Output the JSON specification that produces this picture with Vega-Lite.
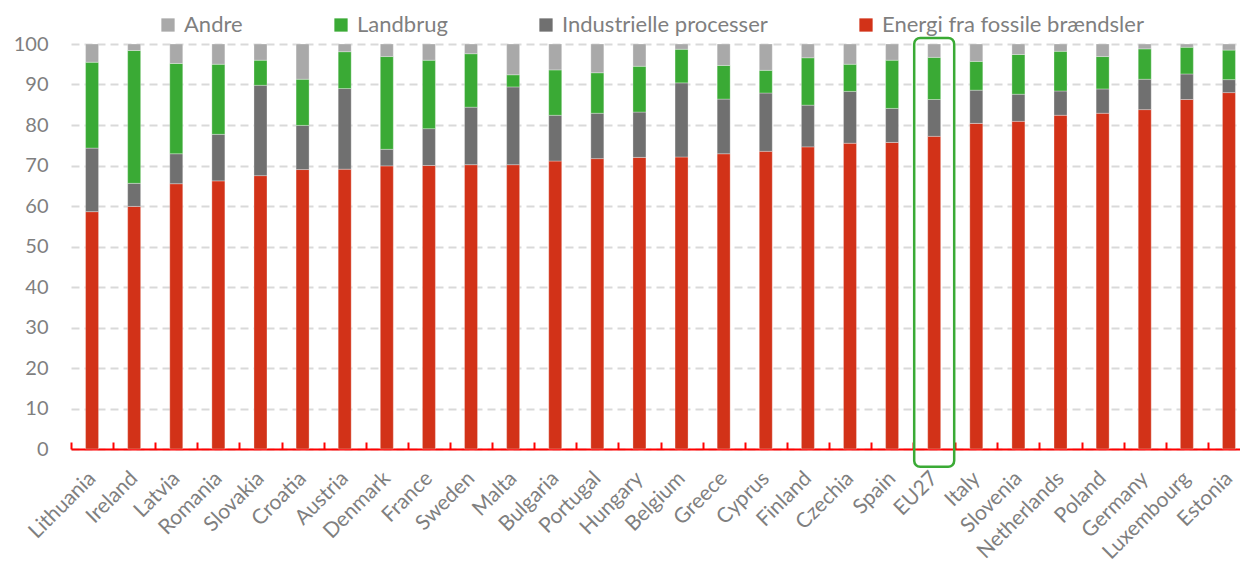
{
  "$schema": "https://vega.github.io/schema/vega-lite/v6.json",
  "autosize": "none",
  "padding": {"left": 71, "top": 44, "right": 0, "bottom": 120},
  "width": 1179,
  "height": 405,
  "background": "white",
  "config": {
    "font": "Lato",
    "view": {"stroke": null}
  },
  "data": {
    "values": [
      {"land": "Lithuania", "Energi fra fossile brændsler": 58.6, "Industrielle processer": 15.7, "Landbrug": 21.2, "Andre": 4.5},
      {"land": "Ireland", "Energi fra fossile brændsler": 59.9, "Industrielle processer": 5.7, "Landbrug": 32.8, "Andre": 1.6},
      {"land": "Latvia", "Energi fra fossile brændsler": 65.5, "Industrielle processer": 7.4, "Landbrug": 22.3, "Andre": 4.8},
      {"land": "Romania", "Energi fra fossile brændsler": 66.2, "Industrielle processer": 11.5, "Landbrug": 17.3, "Andre": 5.0},
      {"land": "Slovakia", "Energi fra fossile brændsler": 67.5, "Industrielle processer": 22.3, "Landbrug": 6.2, "Andre": 4.0},
      {"land": "Croatia", "Energi fra fossile brændsler": 69.0, "Industrielle processer": 10.9, "Landbrug": 11.4, "Andre": 8.7},
      {"land": "Austria", "Energi fra fossile brændsler": 69.1, "Industrielle processer": 19.9, "Landbrug": 9.1, "Andre": 1.9},
      {"land": "Denmark", "Energi fra fossile brændsler": 69.9, "Industrielle processer": 4.1, "Landbrug": 22.9, "Andre": 3.1},
      {"land": "France", "Energi fra fossile brændsler": 70.0, "Industrielle processer": 9.1, "Landbrug": 16.9, "Andre": 4.0},
      {"land": "Sweden", "Energi fra fossile brændsler": 70.2, "Industrielle processer": 14.2, "Landbrug": 13.2, "Andre": 2.4},
      {"land": "Malta", "Energi fra fossile brændsler": 70.2, "Industrielle processer": 19.2, "Landbrug": 3.0, "Andre": 7.6},
      {"land": "Bulgaria", "Energi fra fossile brændsler": 71.1, "Industrielle processer": 11.3, "Landbrug": 11.2, "Andre": 6.4},
      {"land": "Portugal", "Energi fra fossile brændsler": 71.7, "Industrielle processer": 11.2, "Landbrug": 10.0, "Andre": 7.1},
      {"land": "Hungary", "Energi fra fossile brændsler": 72.0, "Industrielle processer": 11.2, "Landbrug": 11.3, "Andre": 5.5},
      {"land": "Belgium", "Energi fra fossile brændsler": 72.1, "Industrielle processer": 18.3, "Landbrug": 8.3, "Andre": 1.3},
      {"land": "Greece", "Energi fra fossile brændsler": 72.9, "Industrielle processer": 13.5, "Landbrug": 8.3, "Andre": 5.3},
      {"land": "Cyprus", "Energi fra fossile brændsler": 73.5, "Industrielle processer": 14.4, "Landbrug": 5.6, "Andre": 6.5},
      {"land": "Finland", "Energi fra fossile brændsler": 74.6, "Industrielle processer": 10.3, "Landbrug": 11.7, "Andre": 3.4},
      {"land": "Czechia", "Energi fra fossile brændsler": 75.5, "Industrielle processer": 12.8, "Landbrug": 6.7, "Andre": 5.0},
      {"land": "Spain", "Energi fra fossile brændsler": 75.7, "Industrielle processer": 8.4, "Landbrug": 11.9, "Andre": 4.0},
      {"land": "EU27", "Energi fra fossile brændsler": 77.2, "Industrielle processer": 9.1, "Landbrug": 10.4, "Andre": 3.3},
      {"land": "Italy", "Energi fra fossile brændsler": 80.4, "Industrielle processer": 8.2, "Landbrug": 7.1, "Andre": 4.3},
      {"land": "Slovenia", "Energi fra fossile brændsler": 80.9, "Industrielle processer": 6.7, "Landbrug": 9.8, "Andre": 2.6},
      {"land": "Netherlands", "Energi fra fossile brændsler": 82.4, "Industrielle processer": 6.0, "Landbrug": 9.8, "Andre": 1.8},
      {"land": "Poland", "Energi fra fossile brændsler": 82.9, "Industrielle processer": 6.0, "Landbrug": 8.0, "Andre": 3.1},
      {"land": "Germany", "Energi fra fossile brændsler": 83.8, "Industrielle processer": 7.5, "Landbrug": 7.5, "Andre": 1.2},
      {"land": "Luxembourg", "Energi fra fossile brændsler": 86.3, "Industrielle processer": 6.3, "Landbrug": 6.6, "Andre": 0.8},
      {"land": "Estonia", "Energi fra fossile brændsler": 88.0, "Industrielle processer": 3.2, "Landbrug": 7.3, "Andre": 1.5}
    ]
  },
  "layer": [
    {
      "transform": [
        {"fold": ["Energi fra fossile brændsler", "Industrielle processer", "Landbrug", "Andre"], "as": ["kilde", "andel"]},
        {"calculate": "indexof(['Energi fra fossile brændsler', 'Industrielle processer', 'Landbrug', 'Andre'], datum.kilde)", "as": "rang"}
      ],
      "mark": {"type": "bar", "width": 13, "stroke": "white", "strokeWidth": 0.6, "strokeOpacity": 0.5},
      "encoding": {
        "x": {
          "field": "land", "type": "nominal", "sort": null,
          "scale": {"paddingInner": 0, "paddingOuter": 0},
          "axis": {
            "title": null, "labelAngle": -45, "labelAlign": "right", "labelBaseline": "middle",
            "labelFontSize": 21, "labelColor": "#7f7f7f", "labelPadding": 33,
            "domainColor": "#ff0000", "domainWidth": 2,
            "tickColor": "#ff0000", "tickWidth": 2, "tickSize": -7, "tickBand": "extent",
            "grid": false
          }
        },
        "y": {
          "field": "andel", "type": "quantitative", "stack": "zero",
          "scale": {"domain": [0, 100], "nice": false},
          "axis": {
            "title": null, "values": [0, 10, 20, 30, 40, 50, 60, 70, 80, 90, 100],
            "domain": false, "ticks": false, "labelFontSize": 20, "labelColor": "#7f7f7f",
            "labelPadding": 23, "grid": true, "gridColor": "#d9d9d9", "gridWidth": 2, "gridDash": [8, 5]
          }
        },
        "color": {
          "field": "kilde", "type": "nominal",
          "sort": ["Andre", "Landbrug", "Industrielle processer", "Energi fra fossile brændsler"],
          "scale": {
            "domain": ["Andre", "Landbrug", "Industrielle processer", "Energi fra fossile brændsler"],
            "range": ["#a9a9a9", "#3aaa35", "#707070", "#d23218"]
          },
          "legend": {
            "title": null, "orient": "none", "direction": "horizontal",
            "legendX": 86, "legendY": -30, "padding": 0,
            "symbolType": "square", "symbolSize": 176, "symbolStrokeWidth": 0,
            "labelFontSize": 22, "labelColor": "#7f7f7f", "labelOffset": 5,
            "columnPadding": 87, "labelLimit": 400
          }
        },
        "order": {"field": "rang", "type": "quantitative", "sort": "ascending"}
      }
    },
    {
      "data": {"values": [{}]},
      "mark": {"type": "bar", "width": 40, "filled": false, "stroke": "#3aaa35", "strokeWidth": 2.5, "cornerRadius": 6},
      "encoding": {
        "x": {"datum": "EU27", "type": "nominal"},
        "y": {"datum": 101.5, "type": "quantitative"},
        "y2": {"datum": -4.4}
      }
    }
  ]
}
